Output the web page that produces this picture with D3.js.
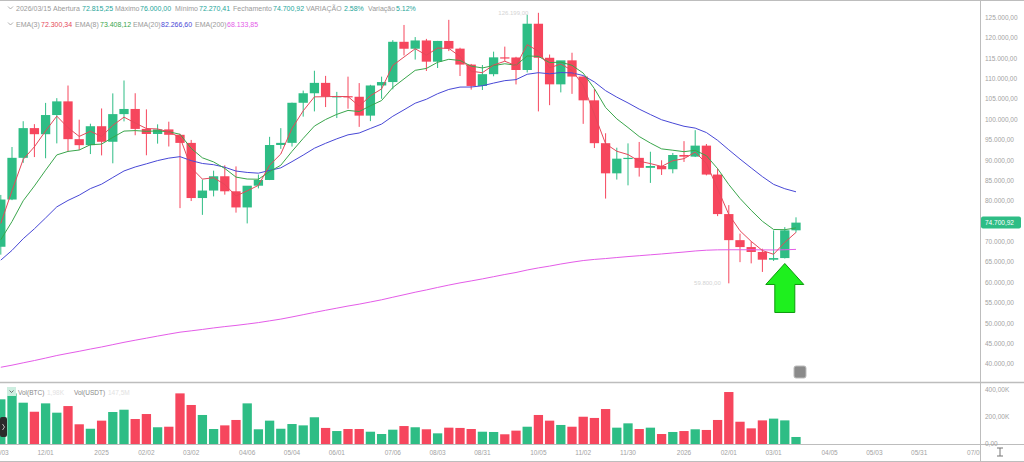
<!DOCTYPE html>
<html>
<head>
<meta charset="utf-8">
<script src="https://cdn.jsdelivr.net/npm/d3@7"></script>
<style>
  body { margin: 0; background: #fff; }
  svg { display: block; font-family: "Liberation Sans", Arial, sans-serif; }
</style>
</head>
<body>
<svg id="chart"></svg>
<script>
// weekly candles, BTC/USDT
let weekDates = [
  '2024-11-03','2024-11-10','2024-11-17','2024-11-24','2024-12-01','2024-12-08','2024-12-15','2024-12-22','2024-12-29','2025-01-05',
  '2025-01-12','2025-01-19','2025-01-26','2025-02-02','2025-02-09','2025-02-16','2025-02-23','2025-03-02','2025-03-09','2025-03-16',
  '2025-03-23','2025-03-30','2025-04-06','2025-04-13','2025-04-20','2025-04-27','2025-05-04','2025-05-11','2025-05-18','2025-05-25',
  '2025-06-01','2025-06-08','2025-06-15','2025-06-22','2025-06-29','2025-07-06','2025-07-13','2025-07-20','2025-07-27','2025-08-03',
  '2025-08-10','2025-08-17','2025-08-24','2025-08-31','2025-09-07','2025-09-14','2025-09-21','2025-09-28','2025-10-05','2025-10-12',
  '2025-10-19','2025-10-26','2025-11-02','2025-11-09','2025-11-16','2025-11-23','2025-11-30','2025-12-07','2025-12-14','2025-12-21',
  '2025-12-28','2026-01-04','2026-01-11','2026-01-18','2026-01-25','2026-02-01','2026-02-08','2026-02-15','2026-02-22','2026-03-01',
  '2026-03-08','2026-03-15'
]

let opens = [
  68775, 80370, 90605, 97900, 96405, 101109, 104463, 95186, 93716, 98363,
  94545, 101335, 102600, 97700, 96462, 97580, 96258, 94270, 80734, 82576,
  86082, 82390, 78430, 83760, 85170, 93750, 94277, 104118, 106454, 109004,
  105642, 105734, 105595, 100965, 108365, 109203, 119086, 117380, 119415, 114208,
  119294, 117405, 113491, 108246, 111137, 115268, 115232, 112163, 123520, 115166,
  108642, 114530, 110550, 104719, 94200, 86800, 90400, 90600, 88150, 88600,
  87800, 91300, 90900, 93600, 86500, 76800, 70400, 68700, 67500, 65600,
  66000, 72815.25
]
let highs = [
  81500, 93265, 99588, 98871, 104088, 105250, 108353, 99963, 98976, 102724,
  106422, 109588, 106457, 102500, 98826, 99475, 96500, 95000, 85300, 87453,
  88765, 88500, 83588, 86496, 95758, 97895, 104145, 107108, 111980, 110718,
  106794, 110530, 108952, 108528, 110530, 119488, 123218, 120247, 119800, 119311,
  124474, 117630, 113650, 113384, 116665, 117900, 115400, 125708, 126199, 115963,
  114000, 116400, 110600, 107500, 96636, 93092, 94150, 94500, 92100, 90000,
  91800, 94700, 97400, 94000, 88000, 79000, 72000, 70100, 68300, 72800,
  73600, 76000
]
let lows = [
  66835, 80216, 89376, 90791, 90500, 94150, 92175, 92500, 91530, 91203,
  89256, 99550, 96150, 91231, 94088, 93388, 78258, 80000, 76606, 81134,
  81565, 77153, 74508, 83100, 85144, 92800, 93377, 100718, 102000, 103068,
  100372, 102664, 98200, 99613, 105100, 107429, 115736, 114723, 111920, 112650,
  116803, 110680, 107350, 107255, 110621, 114384, 108620, 111560, 102000, 103528,
  106666, 106304, 98944, 93005, 80600, 85272, 83850, 86000, 84450, 86400,
  86800, 89600, 90800, 86300, 76300, 59800, 65000, 64700, 62600, 65300,
  65900, 72270.41
]
let closes = [
  80370, 90605, 97900, 96405, 101109, 104463, 95186, 93716, 98363, 94545,
  101335, 102600, 97700, 96462, 97580, 96258, 94270, 80734, 82576, 86082,
  82390, 78430, 83760, 85170, 93750, 94277, 104118, 106454, 109004, 105642,
  105734, 105595, 100965, 108365, 109203, 119086, 117380, 119415, 114208, 119294,
  117405, 113491, 108246, 111137, 115268, 115232, 112163, 123520, 115166, 108642,
  114530, 110550, 104719, 94200, 86800, 90400, 90600, 88150, 88600, 87800,
  91300, 90900, 93600, 86500, 76800, 70400, 68700, 67500, 65600, 66000,
  72815.25, 74700.92
]
// Vol(BTC), thousands
let volumes = [
  331, 375, 306, 239, 301, 232, 281, 146, 113, 173,
  237, 254, 185, 222, 124, 128, 375, 289, 215, 111,
  138, 178, 301, 109, 173, 113, 148, 138, 198, 119,
  96, 111, 111, 91, 74, 106, 133, 124, 109, 79,
  121, 119, 111, 91, 89, 72, 99, 128, 215, 173,
  141, 128, 202, 193, 259, 121, 153, 111, 121, 74,
  89, 96, 109, 104, 178, 385, 165, 116, 175, 188,
  175, 52
]

let ema3 = [
  74500, 82550, 90230, 93310, 97210, 100840, 98010, 95860, 97110, 95830,
  98580, 100590, 99150, 97800, 97690, 96970, 95620, 88180, 85380, 85730,
  84060, 81250, 82500, 83840, 88800, 91540, 97830, 102140, 105570, 105610,
  105670, 105630, 103300, 105840, 107520, 113300, 115340, 117380, 115800, 117550,
  117470, 115480, 111860, 111500, 113380, 114310, 113230, 118380, 116770, 112710,
  113620, 112080, 108400, 101300, 94050, 92220, 91410, 89780, 89190, 88500,
  89900, 90400, 92000, 89250, 83020, 76710, 72700, 70100, 67850, 66930,
  69870, 72300.34
]
let ema8 = [
  70500, 74970, 80070, 83700, 87570, 91320, 92180, 92520, 93820, 93980,
  95620, 97170, 97290, 97110, 97210, 97000, 96390, 92910, 90610, 89600,
  88000, 85870, 85400, 85350, 87220, 88790, 92200, 95370, 98400, 100010,
  101280, 102240, 101960, 103380, 104670, 107870, 109980, 112080, 112550, 114050,
  114790, 114500, 113110, 112670, 113250, 113690, 113350, 115610, 115510, 113980,
  114100, 113310, 111400, 107580, 102960, 100170, 98040, 95840, 94230, 92800,
  92470, 92120, 92450, 91130, 87950, 84050, 80640, 77720, 75030, 73020,
  72970, 73408.12
]
let ema20 = [
  65500, 67890, 70750, 73190, 75850, 78570, 80150, 81440, 83050, 84140,
  85780, 87380, 88360, 89130, 89930, 90530, 90890, 89920, 89220, 88920,
  88300, 87360, 87020, 86840, 87500, 88150, 89670, 91270, 92960, 94170,
  95270, 96250, 96700, 97810, 98890, 100810, 102390, 104010, 104980, 106340,
  107390, 107970, 107990, 108290, 108950, 109550, 109800, 111110, 111500, 111230,
  111540, 111450, 110810, 109230, 107090, 105500, 104080, 102560, 101230, 99950,
  99130, 98350, 97900, 96810, 94900, 92570, 90300, 88130, 85990, 84090,
  83020, 82266.60
]
let ema200 = [
  39200, 39710, 40290, 40850, 41450, 42080, 42610, 43120, 43670, 44180,
  44750, 45320, 45840, 46340, 46850, 47340, 47810, 48140, 48480, 48850,
  49180, 49470, 49810, 50160, 50590, 51020, 51550, 52100, 52660, 53190,
  53710, 54230, 54690, 55220, 55760, 56390, 57000, 57620, 58180, 58790,
  59370, 59910, 60390, 60890, 61430, 61970, 62460, 63070, 63590, 64030,
  64540, 64990, 65390, 65670, 65880, 66130, 66370, 66580, 66800, 67010,
  67250, 67480, 67740, 67930, 68020, 68040, 68040, 68040, 68010, 67990,
  68040, 68133.85
]
// header percentages as shown by the platform
let changeTexts = ['2.58%', '5.12%']

let priceTicks = [40000, 45000, 50000, 55000, 60000, 65000, 70000, 75000, 80000, 85000,
                  90000, 95000, 100000, 105000, 110000, 115000, 120000, 125000]
let volTicks = [0, 200, 400]
let volTickLabels = ['0,00', '200,00K', '400,00K']
let dateTicks = ['2024-11-03','2024-12-01','2025-01-05','2025-02-02','2025-03-02','2025-04-06','2025-05-04',
                 '2025-06-01','2025-07-06','2025-08-03','2025-08-31','2025-10-05','2025-11-02','2025-11-30',
                 '2026-01-04','2026-02-01','2026-03-01','2026-04-05','2026-05-03','2026-05-31','2026-07-05']
let dateTickLabels = ['11/03','12/01','2025','02/02','03/02','04/06','05/04','06/01','07/06','08/03','08/31',
                      '10/05','11/02','11/30','2026','02/01','03/01','04/05','05/03','05/31','07/05']

let width = 1024
let height = 462
let plotRight = 980

let up = '#2ebd85'
let down = '#f6465d'
let axisGray = '#a3a3a3'

let br = d3.formatLocale({decimal: ',', thousands: '.', grouping: [3], currency: ['', '']})
let money = br.format(',.2f')
let parseDay = d3.utcParse('%Y-%m-%d')

let svg = d3.select('svg').attr('width', width).attr('height', height)

let xScale = d3.scaleUtc()
    .domain([new Date(Date.UTC(2024, 10, 2, 12)), new Date(Date.UTC(2026, 6, 8))])
    .range([0, plotRight])
let yScale = d3.scaleLinear().domain([40000, 125000]).range([364, 17.7])
let volScale = d3.scaleLinear().domain([0, 400]).range([444, 390])

let candles = weekDates.map((d, i) => ({
    date: parseDay(d), o: opens[i], h: highs[i], l: lows[i], c: closes[i], v: volumes[i]
}))
let colorOf = d => d.c >= d.o ? up : down
let bodyW = 9.3

const drawFrame = () => {
    let defs = svg.append('defs')
    defs.append('clipPath').attr('id', 'clipMain')
        .append('rect').attr('x', 0).attr('y', 2).attr('width', plotRight).attr('height', 380)
    defs.append('clipPath').attr('id', 'clipVol')
        .append('rect').attr('x', 0).attr('y', 383).attr('width', plotRight).attr('height', 61)
    defs.append('clipPath').attr('id', 'clipDates')
        .append('rect').attr('x', 0).attr('y', 444).attr('width', plotRight).attr('height', 18)

    svg.append('rect').attr('width', width).attr('height', height).attr('fill', '#fff')
    let lines = [[0, 0.5, width, 0.5, 1], [0, 382.5, width, 382.5, 1.5], [0, 444.5, width, 444.5, 1],
                 [plotRight + 0.5, 0, plotRight + 0.5, height, 1], [0, 461.5, width, 461.5, 1]]
    svg.selectAll('line.frame').data(lines).enter().append('line')
        .attr('class', 'frame')
        .attr('x1', d => d[0]).attr('y1', d => d[1]).attr('x2', d => d[2]).attr('y2', d => d[3])
        .attr('stroke', '#bdbdbd').attr('stroke-width', d => d[4])
}

const drawCandles = () => {
    let g = svg.append('g').attr('clip-path', 'url(#clipMain)')

    g.selectAll('line.wick').data(candles).enter().append('line')
        .attr('class', 'wick')
        .attr('x1', d => xScale(d.date)).attr('x2', d => xScale(d.date))
        .attr('y1', d => yScale(d.h)).attr('y2', d => yScale(d.l))
        .attr('stroke', colorOf).attr('stroke-width', 1)

    g.selectAll('rect.body').data(candles).enter().append('rect')
        .attr('class', 'body')
        .attr('x', d => xScale(d.date) - bodyW / 2)
        .attr('width', bodyW)
        .attr('y', d => yScale(Math.max(d.o, d.c)))
        .attr('height', d => Math.max(1.2, Math.abs(yScale(d.o) - yScale(d.c))))
        .attr('fill', colorOf)

    let emaLine = d3.line()
        .x((v, i) => xScale(candles[i].date))
        .y(v => yScale(v))
    let emas = [[ema200, '#e45ce8'], [ema20, '#4848d6'], [ema8, '#3aa64c'], [ema3, '#e5485a']]
    emas.forEach(([vals, col]) => {
        g.append('path').datum(vals)
            .attr('d', emaLine)
            .attr('fill', 'none')
            .attr('stroke', col)
            .attr('stroke-width', 1)
    })

    // faint high / low markers
    let hi = d3.maxIndex(candles, d => d.h)
    let lo = d3.minIndex(candles, d => d.l)
    g.append('text').attr('x', xScale(candles[hi].date) - 10).attr('y', yScale(candles[hi].h) + 2)
        .attr('text-anchor', 'end').attr('font-size', 6).attr('fill', '#d4d4d4')
        .text(money(candles[hi].h))
    g.append('text').attr('x', xScale(candles[lo].date) - 8).attr('y', yScale(candles[lo].l) + 2)
        .attr('text-anchor', 'end').attr('font-size', 6).attr('fill', '#d4d4d4')
        .text(money(candles[lo].l))

    // green arrow under the reversal candle
    let a = candles[70]
    let ax = xScale(a.date)
    let ay = yScale(a.l) + 5
    g.append('path')
        .attr('d', `M${ax},${ay} L${ax + 19},${ay + 21} L${ax + 10},${ay + 21} L${ax + 10},${ay + 49}
                    L${ax - 10},${ay + 49} L${ax - 10},${ay + 21} L${ax - 19},${ay + 21} Z`)
        .attr('fill', '#1ef01e').attr('stroke', '#0c9a0c').attr('stroke-width', 1)
}

const drawVolume = () => {
    let g = svg.append('g').attr('clip-path', 'url(#clipVol)')
    g.selectAll('rect.vol').data(candles).enter().append('rect')
        .attr('class', 'vol')
        .attr('x', d => xScale(d.date) - bodyW / 2)
        .attr('width', bodyW)
        .attr('y', d => volScale(d.v))
        .attr('height', d => volScale(0) - volScale(d.v))
        .attr('fill', colorOf)
}

const drawAxes = () => {
    let yAxis = svg.append('g').attr('font-size', 6.5).attr('fill', axisGray)
    yAxis.selectAll('text').data(priceTicks).enter().append('text')
        .attr('x', 985).attr('y', d => yScale(d) + 2.3)
        .text(d => money(d))

    let vAxis = svg.append('g').attr('font-size', 6.5).attr('fill', axisGray)
    vAxis.selectAll('text').data(volTicks).enter().append('text')
        .attr('x', 985).attr('y', d => volScale(d) + 2.3)
        .text((d, i) => volTickLabels[i])

    let xAxis = svg.append('g').attr('clip-path', 'url(#clipDates)')
        .attr('font-size', 6.5).attr('fill', axisGray).attr('text-anchor', 'middle')
    xAxis.selectAll('text').data(dateTicks).enter().append('text')
        .attr('x', d => xScale(parseDay(d))).attr('y', 455)
        .text((d, i) => dateTickLabels[i])

    // last price tag
    let last = candles[candles.length - 1]
    let ty = yScale(last.c)
    svg.append('rect').attr('x', 981).attr('y', ty - 6).attr('width', 40).attr('height', 12)
        .attr('rx', 2).attr('fill', up)
    svg.append('text').attr('x', 985).attr('y', ty + 2.3).attr('font-size', 6.5).attr('fill', '#fff')
        .text(money(last.c))
}

const drawLegend = () => {
    let last = candles[candles.length - 1]
    let gray = '#9a9a9a', teal = '#26a69a'
    let row1 = [
        [16, '2026/03/15', gray], [53, 'Abertura', gray], [82, money(last.o), teal],
        [115, 'Máximo', gray], [140, money(last.h), teal], [175, 'Mínimo', gray],
        [199, money(last.l), teal], [233, 'Fechamento', gray], [273, money(last.c), teal],
        [306, 'VARIAÇÃO', gray], [344, changeTexts[0], teal],
        [368, 'Variação', gray], [396, changeTexts[1], teal]
    ]
    let row2 = [
        [16, 'EMA(3)', gray], [41, money(ema3[ema3.length - 1]), '#e5485a'],
        [75, 'EMA(8)', gray], [100, money(ema8[ema8.length - 1]), '#3aa64c'],
        [133, 'EMA(20)', gray], [161, money(ema20[ema20.length - 1]), '#4848d6'],
        [195, 'EMA(200)', gray], [227, money(ema200[ema200.length - 1]), '#e45ce8']
    ]
    let leg = svg.append('g').attr('font-size', 7)
    leg.selectAll('text.r1').data(row1).enter().append('text')
        .attr('x', d => d[0]).attr('y', 10.5).attr('fill', d => d[2]).text(d => d[1])
    leg.selectAll('text.r2').data(row2).enter().append('text')
        .attr('x', d => d[0]).attr('y', 26.5).attr('fill', d => d[2]).text(d => d[1])
    leg.selectAll('path.chev').data([8, 24]).enter().append('path')
        .attr('d', d => `M8,${d - 1.5} L10.5,${d + 1} L13,${d - 1.5}`)
        .attr('fill', 'none').attr('stroke', gray).attr('stroke-width', 0.8)

    // volume pane legend
    svg.append('rect').attr('x', 7).attr('y', 387).attr('width', 9).attr('height', 9)
        .attr('fill', '#cdeee0')
    svg.append('path').attr('d', 'M9.5,390.5 L11.5,392.5 L13.5,390.5')
        .attr('fill', 'none').attr('stroke', '#555').attr('stroke-width', 0.8)
    let vl = [[18, 'Vol(BTC)', '#8a8a8a'], [47, '1,98K', '#e2e2e2'], [74, 'Vol(USDT)', '#8a8a8a'], [108, '147,5M', '#e2e2e2']]
    svg.append('g').attr('font-size', 6.5).selectAll('text').data(vl).enter().append('text')
        .attr('x', d => d[0]).attr('y', 394.5).attr('fill', d => d[2]).text(d => d[1])

    // small widgets
    svg.append('rect').attr('x', 794).attr('y', 366).attr('width', 12).attr('height', 12)
        .attr('rx', 2).attr('fill', '#8a8a8a').attr('stroke', '#bdbdbd')
    svg.append('rect').attr('x', 0).attr('y', 417).attr('width', 7).attr('height', 20)
        .attr('rx', 2).attr('fill', '#2b2b2b')
    svg.append('path').attr('d', 'M2.5,424 L4.5,427 L2.5,430')
        .attr('fill', 'none').attr('stroke', '#ddd').attr('stroke-width', 0.8)
    svg.append('path').attr('d', 'M997,448 L1003,448 M1000,448 L1000,456 M997,456 L1003,456')
        .attr('fill', 'none').attr('stroke', '#777').attr('stroke-width', 1)
}

drawFrame()
drawVolume()
drawCandles()
drawAxes()
drawLegend()
</script>
</body>
</html>
